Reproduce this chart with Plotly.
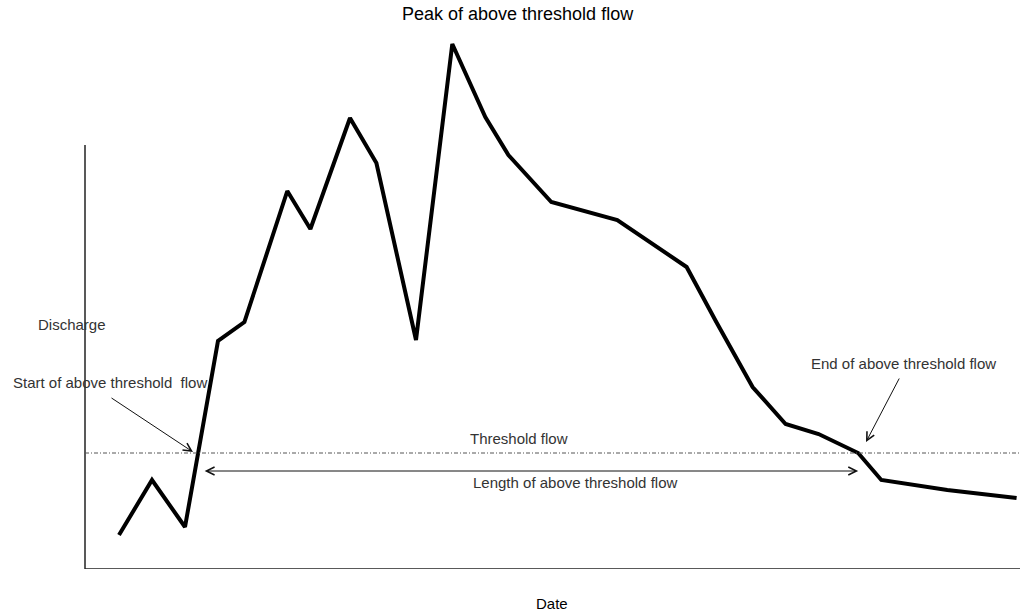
import plotly.graph_objects as go

# ---- data (time in days, discharge in arbitrary units) ----
days = [1, 2, 3, 4, 4.8, 6.1, 6.8, 8.0, 8.8, 10.0, 11.1, 12.1, 12.8, 14.1,
        16.1, 18.2, 19.1, 20.2, 21.2, 22.2, 23.4, 24.1, 26.1, 28.2]
discharge = [6.8, 17.8, 8.4, 45.6, 49.4, 75.6, 68.0, 90.2, 81.2, 45.8, 105.0,
             90.4, 82.8, 73.4, 69.8, 60.4, 49.4, 36.4, 29.0, 27.0, 23.2, 17.8,
             15.8, 14.2]
threshold = 23.2
start_day = 3.55
end_day = 23.4

title_text = "Peak of above threshold flow"
x_title = "Date"
y_title = "Discharge"
label_threshold = "Threshold flow"
label_length = "Length of above threshold flow"
label_start = "Start of above threshold  flow"
label_end = "End of above threshold flow"

# ---- layout geometry ----
W, H = 1021, 614
L, R, T, B = 85, 1, 30, 45
X_RANGE = [(L - 119) / 33 + 1, (W - R - 119) / 33 + 1]
Y_RANGE = [0, (H - B - T) / 5]
Y_AXIS_TOP = 84.8

def px_x(px):
    return (px - 119) / 33 + 1

def py_y(py):
    return (H - B - py) / 5

def paper_x(px):
    return (px - L) / (W - L - R)

def paper_y(py):
    return (H - B - py) / (H - B - T)

small_font = dict(family="Liberation Sans, Arial, sans-serif", size=15, color="#333333")
big_font = dict(family="Liberation Sans, Arial, sans-serif", size=18, color="#000000")

fig = go.Figure()
fig.add_trace(go.Scatter(x=days, y=discharge, mode="lines",
                         line=dict(color="black", width=4),
                         hoverinfo="skip", showlegend=False))

shapes = [
    # y axis line
    dict(type="line", xref="paper", yref="y", x0=0, x1=0, y0=0, y1=Y_AXIS_TOP,
         line=dict(color="#222222", width=1.5)),
    # x axis line
    dict(type="line", xref="paper", yref="y", x0=0, x1=1, y0=0, y1=0,
         line=dict(color="#222222", width=1.5)),
    # threshold line
    dict(type="line", xref="paper", yref="y", x0=0, x1=1, y0=threshold, y1=threshold,
         line=dict(color="#555555", width=1, dash="4px,2px,1px,2px")),
]

annotations = [
    dict(text=title_text, xref="paper", yref="paper", x=paper_x(518), y=paper_y(14),
         showarrow=False, font=big_font, xanchor="center", yanchor="middle"),
    dict(text=x_title, xref="paper", yref="paper", x=paper_x(552), y=paper_y(603),
         showarrow=False, font=dict(big_font, size=15), xanchor="center", yanchor="middle"),
    dict(text=y_title, xref="paper", yref="paper", x=paper_x(36), y=paper_y(324),
         showarrow=False, font=small_font, xanchor="left", yanchor="middle"),
    dict(text=label_start, xref="paper", yref="paper", x=paper_x(11), y=paper_y(382),
         showarrow=False, font=small_font, xanchor="left", yanchor="middle"),
    dict(text=label_end, xref="paper", yref="paper", x=paper_x(903), y=paper_y(364),
         showarrow=False, font=small_font, xanchor="center", yanchor="middle"),
    dict(text=label_threshold, xref="paper", yref="paper", x=paper_x(519), y=paper_y(438),
         showarrow=False, font=small_font, xanchor="center", yanchor="middle"),
    dict(text=label_length, xref="paper", yref="paper", x=paper_x(575), y=paper_y(482),
         showarrow=False, font=small_font, xanchor="center", yanchor="middle"),
    # arrows
    dict(text="", x=px_x(193), y=py_y(452), ax=px_x(110), ay=py_y(397),
         xref="x", yref="y", axref="x", ayref="y", showarrow=True,
         arrowhead=5, arrowsize=1.6, arrowwidth=1, arrowcolor="#111111"),
    dict(text="", x=px_x(866), y=py_y(442), ax=px_x(900), ay=py_y(377),
         xref="x", yref="y", axref="x", ayref="y", showarrow=True,
         arrowhead=5, arrowsize=1.6, arrowwidth=1, arrowcolor="#111111"),
    dict(text="", x=end_day, y=py_y(471), ax=start_day, ay=py_y(471),
         xref="x", yref="y", axref="x", ayref="y", showarrow=True,
         arrowhead=5, startarrowhead=5, arrowside="end+start",
         arrowsize=1.6, startarrowsize=1.6, arrowwidth=1, arrowcolor="#111111"),
]

fig.update_layout(
    width=W, height=H,
    margin=dict(l=L, r=R, t=T, b=B, pad=0),
    paper_bgcolor="white", plot_bgcolor="white",
    xaxis=dict(range=X_RANGE, visible=False, fixedrange=True),
    yaxis=dict(range=Y_RANGE, visible=False, fixedrange=True),
    shapes=shapes, annotations=annotations, showlegend=False,
)

fig.write_html("out.html", config={"displayModeBar": False},
               post_script="document.body.style.margin='0';document.body.style.overflow='hidden';")
